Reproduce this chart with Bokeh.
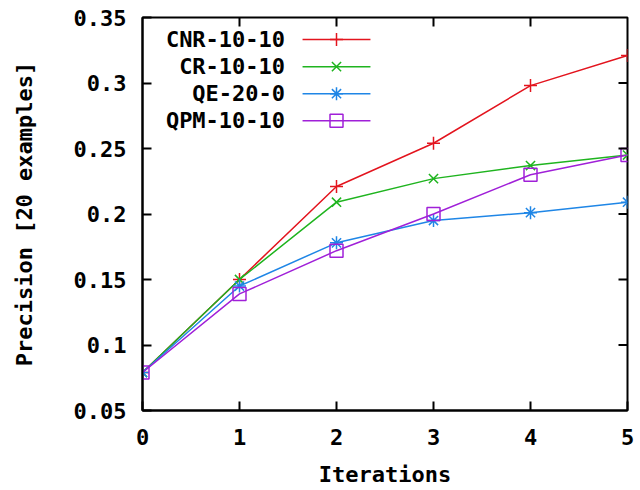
from bokeh.plotting import figure
from bokeh.models import FixedTicker, Range1d
from bokeh.core.properties import value
from bokeh.embed import file_html
from bokeh.resources import INLINE

iterations = [0, 1, 2, 3, 4, 5]
cnr = [0.079, 0.150, 0.221, 0.254, 0.298, 0.321]
cr = [0.079, 0.150, 0.209, 0.227, 0.237, 0.245]
qe = [0.079, 0.145, 0.178, 0.195, 0.201, 0.209]
qpm = [0.079, 0.139, 0.172, 0.200, 0.230, 0.245]
series_names = ["CNR-10-10", "CR-10-10", "QE-20-0", "QPM-10-10"]

x_ticks = [0, 1, 2, 3, 4, 5]
y_ticks = [0.05, 0.1, 0.15, 0.2, 0.25, 0.3, 0.35]
y_tick_labels = ["0.05", "0.1", "0.15", "0.2", "0.25", "0.3", "0.35"]

FONT = "DejaVu Sans Mono"
FS = "22px"
colors = ["#e3141e", "#1fb41f", "#1f86e6", "#a020d8"]
markers = ["cross", "x", "asterisk", "square"]
FRAME_COLOR = "black"

X0, X1 = x_ticks[0], x_ticks[-1]
Y0, Y1 = y_ticks[0], y_ticks[-1]
FRAME_W, FRAME_H = 485, 393
TICK_PX = 9

p = figure(width=640, height=482, output_backend="svg", toolbar_location=None,
           x_range=Range1d(X0, X1), y_range=Range1d(Y0, Y1),
           frame_width=FRAME_W, frame_height=FRAME_H,
           min_border_left=142, min_border_right=13, min_border_top=17, min_border_bottom=72)
p.xgrid.visible = False
p.ygrid.visible = False
p.outline_line_color = FRAME_COLOR
p.outline_line_width = 2

def style_axis(ax):
    ax.axis_line_color = FRAME_COLOR
    ax.axis_line_width = 2
    ax.major_tick_in = TICK_PX
    ax.major_tick_out = 0
    ax.major_tick_line_color = FRAME_COLOR
    ax.major_tick_line_width = 2
    ax.minor_tick_line_color = None
    ax.major_label_text_font = FONT
    ax.major_label_text_font_style = "bold"
    ax.major_label_text_font_size = FS
    ax.major_label_text_color = "black"
    ax.axis_label_text_font = FONT
    ax.axis_label_text_font_style = "bold"
    ax.axis_label_text_font_size = FS
    ax.axis_label_text_color = "black"

xa = p.xaxis[0]
ya = p.yaxis[0]
xa.ticker = FixedTicker(ticks=x_ticks)
ya.ticker = FixedTicker(ticks=y_ticks)
ya.major_label_overrides = {t: l for t, l in zip(y_ticks, y_tick_labels)}
style_axis(xa)
style_axis(ya)
xa.axis_label = "Iterations"
ya.axis_label = "Precision [20 examples]"
xa.major_label_standoff = 18
ya.major_label_standoff = 16
xa.axis_label_standoff = 14
ya.axis_label_standoff = 34

all_series = [cnr, cr, qe, qpm]
for vals, c, m in zip(all_series, colors, markers):
    p.line(iterations, vals, line_color=c, line_width=1.5)
    p.scatter(iterations, vals, marker=m, size=13, line_color=c, line_width=1.5,
              fill_color=None)

# mirrored inward ticks on the top and right edges
dx = TICK_PX * (X1 - X0) / FRAME_W
dy = TICK_PX * (Y1 - Y0) / FRAME_H
x_in = x_ticks[1:-1]
y_in = y_ticks[1:-1]
tick_xs, tick_ys = [], []
for xv in x_in:
    tick_xs.append([xv, xv])
    tick_ys.append([Y1, Y1 - dy])
for yv in y_in:
    tick_xs.append([X1, X1 - dx])
    tick_ys.append([yv, yv])
p.multi_line(tick_xs, tick_ys, line_color=FRAME_COLOR, line_width=2)

# legend (top-left, label right-aligned, sample to the right)
leg_y0 = 0.3332
leg_dy = 0.0207
for i, (name, c, m) in enumerate(zip(series_names, colors, markers)):
    yy = leg_y0 - i * leg_dy
    p.line([1.65, 2.35], [yy, yy], line_color=c, line_width=1.5)
    p.scatter([2.0], [yy], marker=m, size=13, line_color=c, line_width=1.5, fill_color=None)
    p.text([1.47], [yy], text=[name], text_align="right", text_baseline="middle",
           text_font=value(FONT), text_font_style="bold", text_font_size=FS,
           text_color="black")

open("out.html", "w").write(file_html(p, INLINE))
